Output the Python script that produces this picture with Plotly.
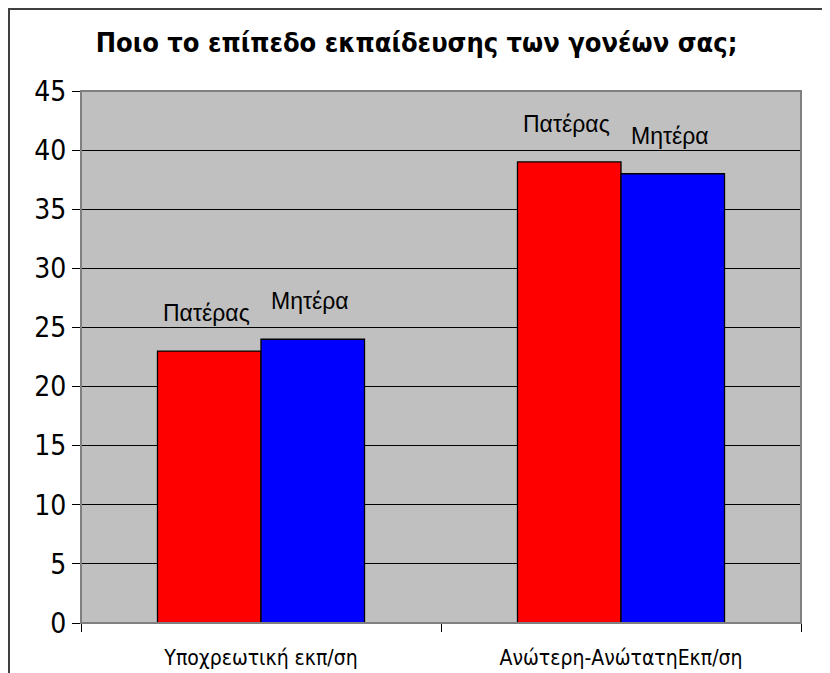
import plotly.graph_objects as go

categories = ["Υποχρεωτική εκπ/ση", "Ανώτερη-ΑνώτατηΕκπ/ση"]
series_names = ["Πατέρας", "Μητέρα"]
father = [23, 39]
mother = [24, 38]
colors = ["#FF0000", "#0000FF"]
y_ticks = [0, 5, 10, 15, 20, 25, 30, 35, 40, 45]

NARROW = "DejaVu Sans Condensed, Liberation Sans Narrow, Liberation Sans, sans-serif"
NORMAL = "Liberation Sans, Arial, sans-serif"

fig = go.Figure()
for name, vals, col in zip(series_names, [father, mother], colors):
    fig.add_trace(go.Bar(
        x=categories, y=vals, name=name,
        marker=dict(color=col, line=dict(color="black", width=1.3)),
    ))

shifts = [-55, 49]
for si, (name, vals) in enumerate(zip(series_names, [father, mother])):
    for c, v in zip(categories, vals):
        fig.add_annotation(
            x=c, y=v, text=name, showarrow=False,
            xshift=shifts[si], yshift=23, yanchor="bottom",
            font=dict(family=NORMAL, size=23, color="black"),
        )

# plot-area border (gray) and outer chart border
fig.add_shape(type="rect", xref="paper", yref="paper", x0=0, x1=1, y0=0, y1=1,
              line=dict(color="#808080", width=2), layer="above")
fig.add_shape(type="rect", xref="paper", yref="paper", x0=-0.1, x1=1.06, y0=-0.12, y1=1.154,
              line=dict(color="#404040", width=2))

fig.update_layout(
    width=822, height=665,
    margin=dict(l=73, r=29, t=83, b=50),
    paper_bgcolor="white",
    plot_bgcolor="#C0C0C0",
    barmode="group",
    bargap=0.425,
    bargroupgap=0,
    showlegend=False,
    title=dict(
        text="<b>Ποιο το επίπεδο εκπαίδευσης των γονέων σας;</b>",
        x=0.497, xanchor="center", y=1 - 35 / 665, yanchor="middle",
        font=dict(family=NARROW, size=27, color="black"),
    ),
    xaxis=dict(
        type="category",
        automargin=False,
        tickson="boundaries",
        ticks="outside", ticklen=8, tickcolor="black", tickwidth=1,
        showline=True, linecolor="black", linewidth=1,
        showgrid=False,
        ticklabelstandoff=16,
        tickfont=dict(family=NARROW, size=21, color="black"),
    ),
    yaxis=dict(
        range=[0, 45],
        automargin=False,
        tickvals=y_ticks,
        ticks="outside", ticklen=8, tickcolor="black", tickwidth=1,
        showline=True, linecolor="black", linewidth=1,
        showgrid=True, gridcolor="black", gridwidth=1,
        zeroline=False,
        tickfont=dict(family=NARROW, size=28, color="black"),
    ),
)

fig.write_html("out.html")
